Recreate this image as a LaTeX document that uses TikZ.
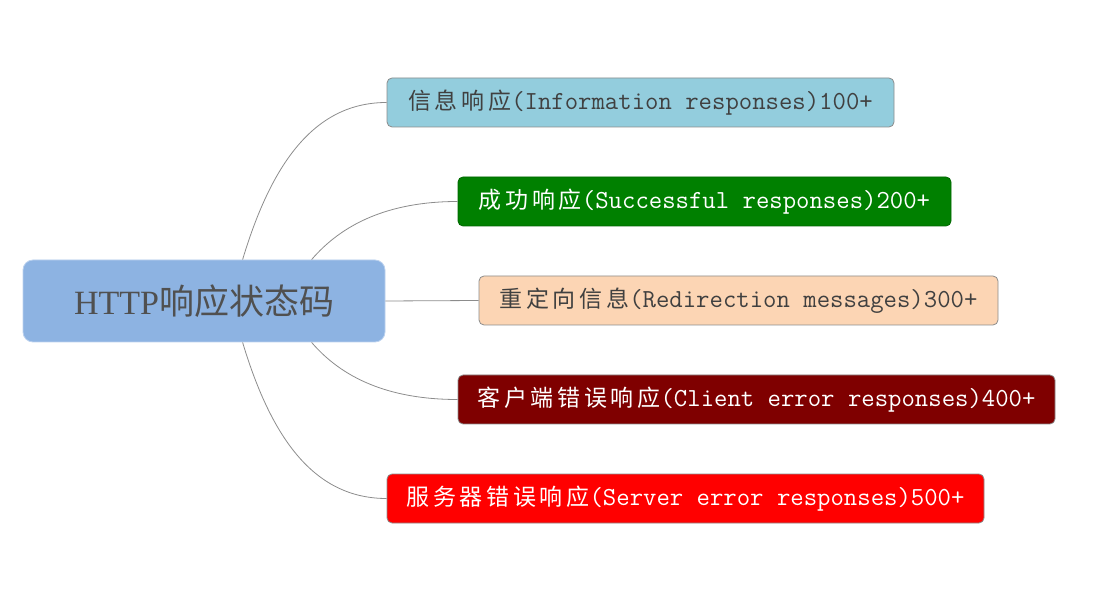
\documentclass[tikz,border=0pt]{standalone}
\usepackage{fontspec}
\newfontfamily\cjk{Noto Sans CJK SC}[LetterSpace=16]
\newfontfamily\cjkbig{Noto Sans CJK SC}
\newfontfamily\serifL{Liberation Serif}
\newcommand\zh[1]{{\cjk\fontsize{23}{26}\selectfont #1}}
\definecolor{cblue}{HTML}{8DB3E2}
\definecolor{cinfo}{HTML}{93CDDD}
\definecolor{cok}{HTML}{008000}
\definecolor{credir}{HTML}{FCD5B4}
\definecolor{cclient}{HTML}{7F0000}
\definecolor{cserver}{HTML}{FF0000}
\definecolor{dtext}{HTML}{404040}
\definecolor{ctext}{HTML}{505050}
\definecolor{lgray}{HTML}{8C8C8C}
\tikzset{
  leaf/.style={draw=lgray, line width=0.8pt, rounded corners=5pt, minimum height=49pt, inner sep=0pt, font=\ttfamily\fontsize{26}{28}\selectfont},
  root/.style={draw=cblue!60!white, line width=0.8pt, fill=cblue, rounded corners=10pt, minimum width=362pt, minimum height=82pt, inner sep=0pt, text=ctext},
  link/.style={draw=lgray, line width=0.8pt}
}
\begin{document}
\begin{tikzpicture}[x=1pt,y=1pt]
\useasboundingbox (0,0) rectangle (1108,600);
\node[root] (c) at (204,299) {{\serifL\fontsize{34}{40}\selectfont HTTP}{\cjkbig\fontsize{35}{40}\selectfont 响应状态码}};
\node[leaf, fill=cinfo, text=dtext, minimum width=507pt] (b1) at (640.5,497.5) {\zh{信息响应}(Information responses)100+};
\node[leaf, fill=cok, draw=cok!80!black, text=white, minimum width=493pt] (b2) at (704.5,398.5) {\zh{成功响应}(Successful responses)200+};
\node[leaf, fill=credir, text=dtext, minimum width=519pt] (b3) at (738.5,299.5) {\zh{重定向信息}(Redirection messages)300+};
\node[leaf, fill=cclient, text=white, minimum width=597pt] (b4) at (756.5,200.5) {\zh{客户端错误响应}(Client error responses)400+};
\node[leaf, fill=cserver, text=white, minimum width=597pt] (b5) at (685.5,101.5) {\zh{服务器错误响应}(Server error responses)500+};
\draw[link] ([xshift=220pt]c.north west) .. controls +(30,100) and +(-70,0) .. (b1.west);
\draw[link] ([xshift=289pt]c.north west) .. controls +(30,35) and +(-70,0) .. (b2.west);
\draw[link] (c.east) -- (b3.west);
\draw[link] ([xshift=289pt]c.south west) .. controls +(30,-35) and +(-70,0) .. (b4.west);
\draw[link] ([xshift=220pt]c.south west) .. controls +(30,-100) and +(-70,0) .. (b5.west);
\end{tikzpicture}
\end{document}
